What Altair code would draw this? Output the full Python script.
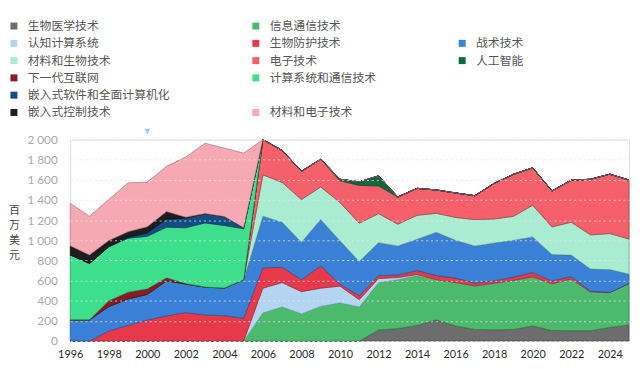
import altair as alt
import pandas as pd

years = list(range(1996, 2026))

series_names = [
    "生物医学技术", "信息通信技术", "认知计算系统", "生物防护技术", "战术技术",
    "材料和生物技术", "电子技术", "人工智能", "下一代互联网", "计算系统和通信技术",
    "嵌入式软件和全面计算机化", "嵌入式控制技术", "材料和电子技术",
]

# values per year 1996..2025 (百万美元)
biomed = [0] * 16 + [110, 125, 155, 210, 150, 115, 111, 115, 150, 105, 103, 103, 135, 160]
ict = [0] * 10 + [280, 340, 270, 345, 380, 340, 470, 485, 495, 398, 430, 432, 462, 486, 487, 463, 512, 384, 345, 410]
cognitive = [0] * 10 + [245, 240, 220, 180, 165, 70, 40, 20, 10] + [0] * 11
biodefense = [0, 0, 100, 155, 209, 250, 283, 258, 252, 225, 202, 152, 120, 220, 20, 40, 30, 26, 40, 42, 45, 29, 25, 34, 43, 29, 25, 8, 5, 0]
tactical = [210, 210, 243, 263, 255, 348, 282, 278, 274, 383, 513, 448, 370, 461, 430, 340, 327, 288, 310, 430, 375, 368, 375, 365, 354, 261, 213, 221, 224, 95]
mat_bio = [0] * 10 + [410, 395, 425, 324, 380, 380, 288, 216, 238, 188, 227, 262, 239, 238, 314, 275, 327, 338, 358, 348]
electronics = [0] * 10 + [350, 317, 281, 275, 216, 375, 275, 270, 268, 232, 243, 237, 353, 417, 372, 357, 417, 552, 590, 585]
ai = [0] * 14 + [15, 35, 100] + [0] * 13
next_internet = [0, 0, 57, 67, 54, 30, 5] + [0] * 23
computing = [645, 560, 536, 535, 522, 502, 555, 637, 621, 507] + [0] * 20
embedded_sw = [0, 0, 0, 10, 35, 80, 95, 92, 90, 10] + [0] * 20
embedded_ctrl = [90, 85, 62, 55, 60, 75, 10] + [0] * 23
mat_elec = [424, 383, 407, 485, 443, 450, 597, 699, 678, 741] + [0] * 20

series_values = [biomed, ict, cognitive, biodefense, tactical, mat_bio, electronics,
                 ai, next_internet, computing, embedded_sw, embedded_ctrl, mat_elec]

fill_colors = ["#6d6d6d", "#4cba6c", "#b3d5f2", "#e8394a", "#3a80d6", "#a9ecd1", "#f5606a",
               "#0f6b3b", "#8c1a25", "#3ddf8d", "#134d84", "#1e1e1e", "#f7a9b3"]
stroke_colors = ["#3d3d3d", "#1f7a3e", "#86aacb", "#8f1c26", "#1e4f90", "#5aa886", "#9c2c33",
                 "#0a4526", "#5a0f16", "#1f8a55", "#0a2f55", "#000000", "#9a6a70"]

# legend layout rows (blank entries keep the reference's row grouping)
legend_rows = [
    ["生物医学技术", "信息通信技术", " "],
    ["认知计算系统", "生物防护技术", "战术技术"],
    ["材料和生物技术", "电子技术", "人工智能"],
    ["下一代互联网", "计算系统和通信技术", "  "],
    ["嵌入式软件和全面计算机化", "   ", "    "],
    ["嵌入式控制技术", "材料和电子技术", "     "],
]

marker_year = [2000]
marker_value = [2080]

rows = []
for i, (name, vals) in enumerate(zip(series_names, series_values)):
    for yr, v in zip(years, vals):
        rows.append({"year": yr, "value": v, "series": name, "idx": i})
df = pd.DataFrame(rows)

color_of = dict(zip(series_names, fill_colors))
legend_domain = [n for r in legend_rows for n in r]
legend_range = [color_of.get(n, "transparent") for n in legend_domain]

y_ticks = list(range(0, 2001, 200))
x_ticks = list(range(1996, 2025, 2))

area = alt.Chart(df).mark_area(strokeWidth=0.7, strokeOpacity=0.9).encode(
    x=alt.X("year:Q",
            scale=alt.Scale(domain=[1996, 2025], nice=False, zero=False),
            axis=alt.Axis(values=x_ticks, tickCount=40, format="d", grid=False,
                          domain=False, ticks=False,
                          labelOverlap=False, labelFlush=False,
                          labelColor="#2a2a2a", labelFont="Lato", labelFontSize=11,
                          labelPadding=8, title=None)),
    y=alt.Y("value:Q", stack="zero",
            scale=alt.Scale(domain=[0, 2000], nice=False),
            axis=alt.Axis(values=y_ticks, tickCount=20,
                          labelExpr="replace(format(datum.value, ','), ',', ' ')",
                          labelOverlap=False, labelFlush=False,
                          grid=True, gridDash=[2, 3], gridColor="#e6e6e6", gridOpacity=0.8,
                          domain=False, ticks=False, zindex=1,
                          labelColor="#aaaaaa", labelFont="Lato", labelFontSize=12,
                          labelPadding=13,
                          title=["百", "万", "美", "元"], titleAngle=0,
                          titleFont="Noto Sans CJK SC", titleFontSize=11,
                          titleFontWeight="normal", titleColor="#444444",
                          titleX=-57, titleY=66, titleAlign="center",
                          titleBaseline="top", titleLineHeight=15)),
    color=alt.Color("series:N",
                    scale=alt.Scale(domain=legend_domain, range=legend_range),
                    legend=alt.Legend(orient="none", legendX=-63, legendY=-121,
                                      columns=3, direction="horizontal", gridAlign="each",
                                      symbolType="square", symbolSize=50, symbolStrokeWidth=0,
                                      labelFont="Noto Sans CJK SC", labelFontSize=12,
                                      labelColor="#555555", labelOffset=8, labelLimit=300,
                                      rowPadding=5.5, columnPadding=80, padding=0,
                                      title=None)),
    stroke=alt.Stroke("series:N",
                      scale=alt.Scale(domain=series_names, range=stroke_colors),
                      legend=None),
    order=alt.Order("idx:Q", sort="ascending"),
)

marker_df = pd.DataFrame({"year": marker_year, "value": marker_value})
marker = alt.Chart(marker_df).mark_point(shape="triangle-down", filled=True, size=40,
                                         color="#a9cbe8", opacity=1, clip=False).encode(
    x="year:Q", y="value:Q")

chart = alt.layer(area, marker).properties(
    width=566, height=204,
    padding={"left": 63, "top": 131, "right": 3, "bottom": 22},
    autosize=alt.AutoSizeParams(type="none"),
).configure_view(stroke=None).configure(background="white")

chart.save("out.html", embed_options={"renderer": "svg", "actions": False})
